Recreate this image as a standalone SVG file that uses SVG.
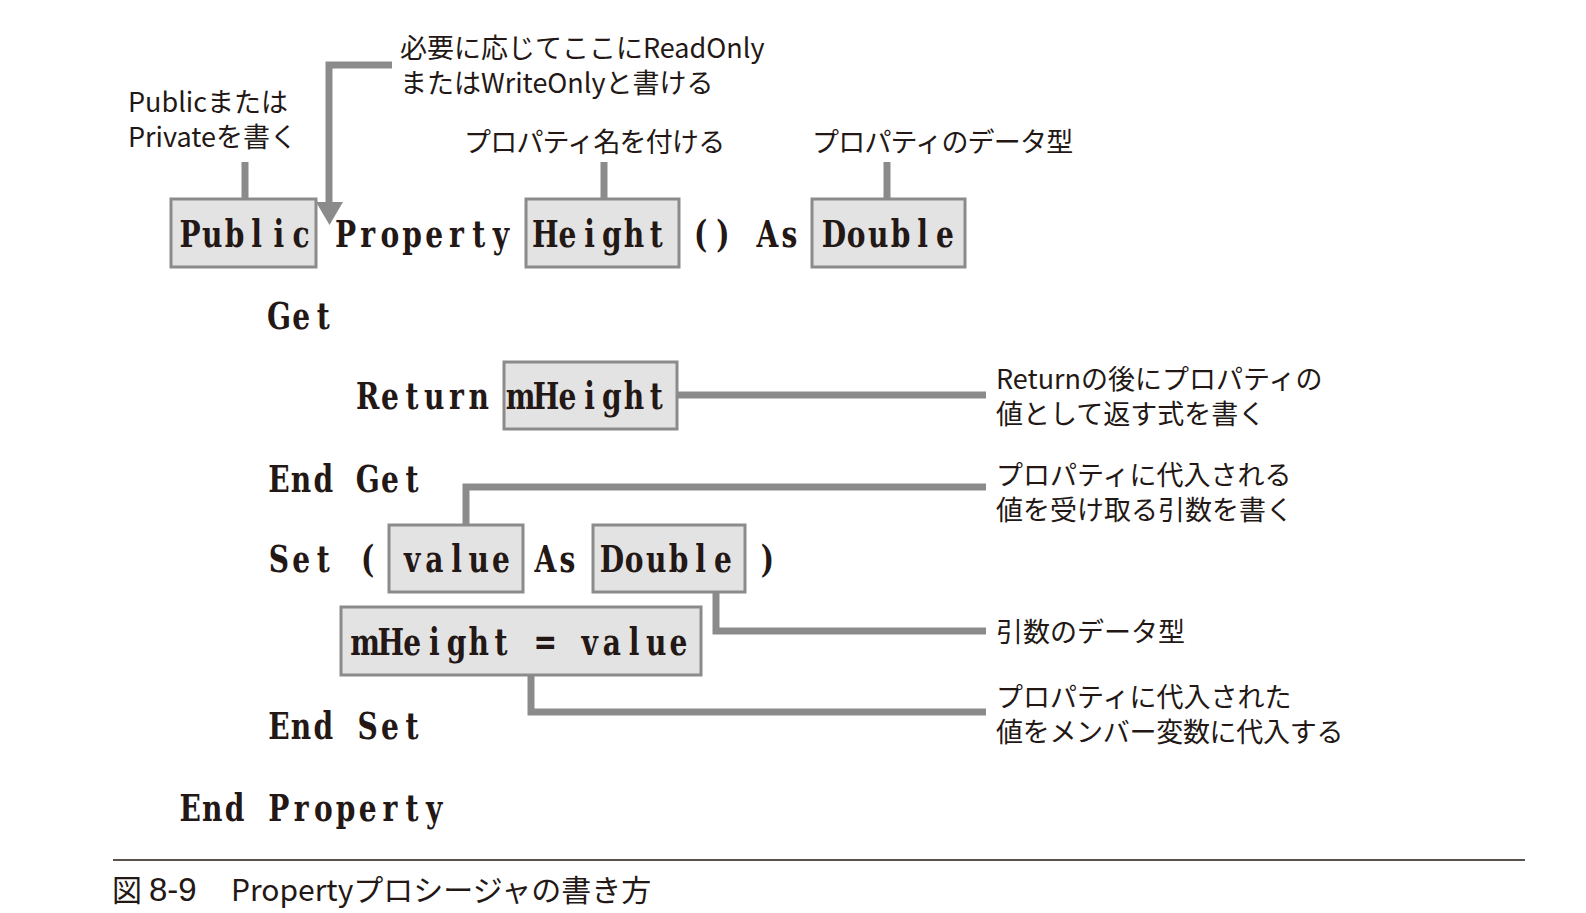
<svg xmlns="http://www.w3.org/2000/svg" width="1586" height="913" viewBox="0 0 1586 913">
<style>
.bg{fill:#ffffff}
.box{fill:#e3e3e3;stroke:#8b8b8b;stroke-width:3}
.code{font-family:"DejaVu Serif","Liberation Serif",serif;font-weight:700;font-size:38px;fill:#231815;text-anchor:middle}
.lbl{font-family:"Noto Sans CJK JP",sans-serif;font-size:27px;fill:#231815}
.cap{font-family:"Noto Sans CJK JP",sans-serif;font-size:30px;fill:#231815}
.capn{font-family:"Liberation Sans",sans-serif;font-size:33px;fill:#231815}
.conn{fill:none;stroke:#8b8b8b;stroke-width:7}
.arrowhead{fill:#8b8b8b}
</style>
<rect class="bg" x="0" y="0" width="1586" height="913"/>

<g id="connectors">
<line class="conn" x1="245" y1="162" x2="245" y2="199"/>
<line class="conn" x1="604" y1="162" x2="604" y2="199"/>
<line class="conn" x1="887" y1="162" x2="887" y2="199"/>
<polyline class="conn" points="392,65 329,65 329,204"/>
<path class="arrowhead" d="M316,202 L343,202 L329.5,225 Z"/>
<line class="conn" x1="677" y1="395" x2="986" y2="395"/>
<polyline class="conn" points="466,525 466,487 986,487"/>
<polyline class="conn" points="716,592 716,631 986,631"/>
<polyline class="conn" points="531,675 531,712 986,712"/>
</g>

<g id="label-public">
<text class="lbl" x="128" y="112">Publicまたは</text>
<text class="lbl" x="128" y="147">Privateを書く</text>
</g>
<g id="label-readonly">
<text class="lbl" x="400" y="58">必要に応じてここにReadOnly</text>
<text class="lbl" x="400" y="93">またはWriteOnlyと書ける</text>
</g>
<g id="label-name">
<text class="lbl" x="464" y="152" letter-spacing="-0.8">プロパティ名を付ける</text>
</g>
<g id="label-type">
<text class="lbl" x="812" y="152" letter-spacing="-0.8">プロパティのデータ型</text>
</g>

<g id="node-public">
<rect class="box" x="171" y="199" width="145" height="68"/>
<text class="code" transform="scale(0.74,1)" x="256.89 286.89 316.89 346.89 376.89 406.89" y="247">Public</text>
</g>
<g id="node-property">
<text class="code" transform="scale(0.74,1)" x="466.89 496.89 526.89 556.89 586.89 616.89 646.89 676.89" y="247">Property</text>
</g>
<g id="node-height">
<rect class="box" x="526" y="199" width="153" height="68"/>
<text class="code" transform="scale(0.74,1)" x="736.89 766.89 796.89 826.89 856.89 886.89" y="247">Height</text>
</g>
<g id="node-paren">
<text class="code" transform="scale(0.74,1)" x="946.89 976.89" y="247">()</text>
</g>
<g id="node-as1">
<text class="code" transform="scale(0.74,1)" x="1036.89 1066.89" y="247">As</text>
</g>
<g id="node-double1">
<rect class="box" x="812" y="199" width="153" height="68"/>
<text class="code" transform="scale(0.74,1)" x="1126.89 1156.89 1186.89 1216.89 1246.89 1276.89" y="247">Double</text>
</g>

<g id="node-get">
<text class="code" transform="scale(0.74,1)" x="376.89 406.89 436.89" y="329">Get</text>
</g>
<g id="node-return">
<text class="code" transform="scale(0.74,1)" x="496.89 526.89 556.89 586.89 616.89 646.89" y="409">Return</text>
</g>
<g id="node-mheight">
<rect class="box" x="504" y="362" width="173" height="67"/>
<text class="code" transform="scale(0.74,1)" x="703.5 738 766.89 796.89 826.89 856.89 886.89" y="409">mHeight</text>
</g>
<g id="label-return">
<text class="lbl" x="996" y="389">Returnの後にプロパティの</text>
<text class="lbl" x="996" y="424">値として返す式を書く</text>
</g>

<g id="node-endget">
<text class="code" transform="scale(0.74,1)" x="376.89 406.89 436.89 466.89 496.89 526.89 556.89" y="492">End Get</text>
</g>

<g id="node-set">
<text class="code" transform="scale(0.74,1)" x="376.89 406.89 436.89" y="572">Set</text>
<text class="code" transform="scale(0.74,1)" x="496.89" y="572">(</text>
</g>
<g id="node-value">
<rect class="box" x="389" y="525" width="134" height="67"/>
<text class="code" transform="scale(0.74,1)" x="556.89 586.89 616.89 646.89 676.89" y="572">value</text>
</g>
<g id="node-as2">
<text class="code" transform="scale(0.74,1)" x="736.89 766.89" y="572">As</text>
</g>
<g id="node-double2">
<rect class="box" x="593" y="525" width="152" height="67"/>
<text class="code" transform="scale(0.74,1)" x="826.89 856.89 886.89 916.89 946.89 976.89" y="572">Double</text>
</g>
<g id="node-close">
<text class="code" transform="scale(0.74,1)" x="1036.89" y="572">)</text>
</g>
<g id="label-value">
<text class="lbl" x="996" y="485">プロパティに代入される</text>
<text class="lbl" x="996" y="520">値を受け取る引数を書く</text>
</g>
<g id="label-argtype">
<text class="lbl" x="996" y="642">引数のデータ型</text>
</g>

<g id="node-assign">
<rect class="box" x="341" y="607" width="360" height="68"/>
<text class="code" transform="scale(0.74,1)" x="493.5 528 556.89 586.89 616.89 646.89 676.89 706.89 736.89 766.89 796.89 826.89 856.89 886.89 916.89" y="655">mHeight = value</text>
</g>
<g id="label-assign">
<text class="lbl" x="996" y="707">プロパティに代入された</text>
<text class="lbl" x="996" y="742" letter-spacing="-0.3">値をメンバー変数に代入する</text>
</g>

<g id="node-endset">
<text class="code" transform="scale(0.74,1)" x="376.89 406.89 436.89 466.89 496.89 526.89 556.89" y="739">End Set</text>
</g>
<g id="node-endproperty">
<text class="code" transform="scale(0.74,1)" x="256.89 286.89 316.89 346.89 376.89 406.89 436.89 466.89 496.89 526.89 556.89 586.89" y="821">End Property</text>
</g>

<g id="caption">
<line x1="113" y1="860" x2="1525" y2="860" stroke="#231815" stroke-width="1.5"/>
<text class="cap" x="112" y="901" font-size="32">図</text>
<text class="capn" x="149" y="901">8-9</text>
<text class="cap" x="231" y="901">Propertyプロシージャの書き方</text>
</g>
</svg>
